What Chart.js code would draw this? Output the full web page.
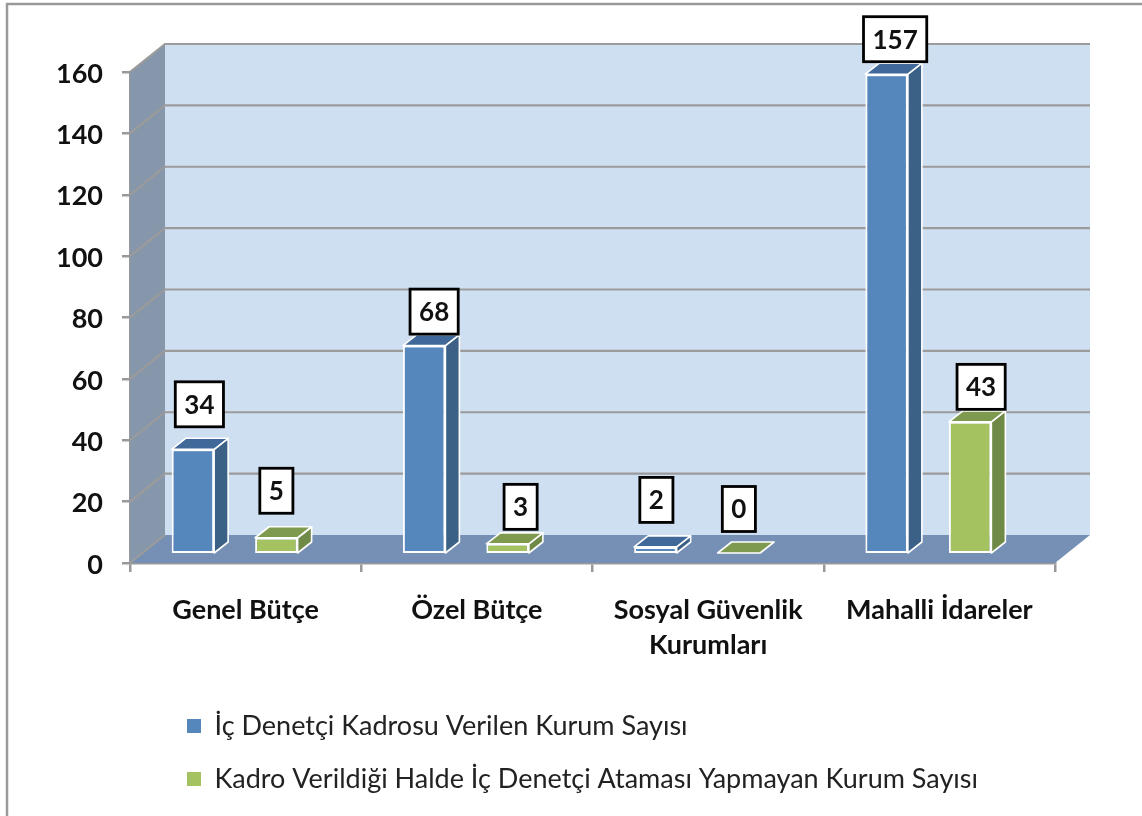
<!DOCTYPE html>
<html>
<head>
<meta charset="utf-8">
<style>html,body{margin:0;padding:0;background:#fff}canvas{display:block}</style>
<script src="https://cdn.jsdelivr.net/npm/chart.js@4"></script>
</head>
<body>
<canvas id="c" width="1142" height="816"></canvas>
<script>
const categories = ['Genel Bütçe', 'Özel Bütçe', ['Sosyal Güvenlik', 'Kurumları'], 'Mahalli İdareler'];
const seriesNames = ['İç Denetçi Kadrosu Verilen Kurum Sayısı', 'Kadro Verildiği Halde İç Denetçi Ataması Yapmayan Kurum Sayısı'];
const seriesA = [34, 68, 2, 157];
const seriesB = [5, 3, 0, 43];

const FONT = 'Lato';
const WALL = {dx: 35, dy: -28};
const BAR_SHIFT = {x: -11, y: -10};
const DEPTH = {dx: 14, dy: -11};
const faces = [
  {front: '#5587bd', side: '#3c6187', top: '#40699a'},
  {front: '#a5c261', side: '#6f8a46', top: '#7e9a4f'}
];
// label box centre relative to the front-top centre of each bar
const labelOffsets = [
  [[6.5, -45], [10, -34], [1, -47], [8.5, -35]],
  [[0, -47], [13, -37], [0, -44], [11, -35]]
];

function poly(ctx, pts, fill, stroke, lw) {
  ctx.beginPath();
  pts.forEach((p, i) => i ? ctx.lineTo(p[0], p[1]) : ctx.moveTo(p[0], p[1]));
  ctx.closePath();
  if (fill) { ctx.fillStyle = fill; ctx.fill(); }
  if (stroke) { ctx.strokeStyle = stroke; ctx.lineWidth = lw; ctx.lineJoin = 'round'; ctx.stroke(); }
}

const scene = {
  id: 'scene',
  afterLayout(chart) {
    const l = chart.legend;
    const w = l.width, h = l.height;
    l.left = 161; l.top = 686.5; l.right = l.left + w; l.bottom = l.top + h;
  },
  beforeDatasetsDraw(chart) {
    const ctx = chart.ctx, a = chart.chartArea, y = chart.scales.y;
    ctx.save();
    // frame
    ctx.strokeStyle = '#9a9a9a'; ctx.lineWidth = 2.5;
    ctx.beginPath(); ctx.moveTo(7, 830); ctx.lineTo(7, 4); ctx.lineTo(1150, 4); ctx.stroke();
    const L = a.left, R = a.right, T = a.top, B = a.bottom, dx = WALL.dx, dy = WALL.dy;
    // back wall
    poly(ctx, [[L + dx, T + dy], [R + dx, T + dy], [R + dx, B + dy], [L + dx, B + dy]], '#cedff1');
    // side wall
    poly(ctx, [[L, T], [L + dx, T + dy], [L + dx, B + dy], [L, B]], '#8797ab');
    // floor
    poly(ctx, [[L, B], [L + dx, B + dy], [R + dx, B + dy], [R, B]], '#7590b4');
    // grid lines
    ctx.strokeStyle = '#9b9b9b'; ctx.lineWidth = 2.2;
    y.ticks.forEach(t => {
      const py = y.getPixelForValue(t.value);
      ctx.beginPath();
      ctx.moveTo(L, py); ctx.lineTo(L + dx, py + dy);
      if (t.value > 0) ctx.lineTo(R + dx, py + dy);
      ctx.stroke();
    });
    ctx.restore();

    // shifted plane for the bars: native fronts are drawn inside it
    ctx.save();
    ctx.translate(BAR_SHIFT.x, BAR_SHIFT.y);
    chart.data.datasets.forEach((ds, di) => {
      chart.getDatasetMeta(di).data.forEach(bar => {
        const x0 = bar.x - bar.width / 2, x1 = bar.x + bar.width / 2, t = bar.y, b = bar.base;
        const ex = DEPTH.dx, ey = DEPTH.dy;
        if (b - t > 0.5) poly(ctx, [[x1, t], [x1 + ex, t + ey], [x1 + ex, b + ey], [x1, b]], faces[di].side, '#ffffff', 1.6);
        poly(ctx, [[x0, t], [x0 + ex, t + ey], [x1 + ex, t + ey], [x1, t]], faces[di].top, '#ffffff', 1.6);
      });
    });
  },
  afterDatasetsDraw(chart) {
    const ctx = chart.ctx;
    ctx.restore();
    ctx.save();
    chart.data.datasets.forEach((ds, di) => {
      chart.getDatasetMeta(di).data.forEach((bar, i) => {
        const off = labelOffsets[di][i];
        const cx = bar.x + BAR_SHIFT.x + off[0], cy = bar.y + BAR_SHIFT.y + off[1];
        const txt = String(ds.data[i]);
        ctx.font = 'bold 26px ' + FONT;
        const w = ctx.measureText(txt).width + 18, h = 45;
        ctx.fillStyle = '#fff'; ctx.strokeStyle = '#000'; ctx.lineWidth = 2.8;
        ctx.fillRect(cx - w / 2, cy - h / 2, w, h);
        ctx.strokeRect(cx - w / 2, cy - h / 2, w, h);
        ctx.fillStyle = '#111'; ctx.textAlign = 'center'; ctx.textBaseline = 'middle';
        ctx.fillText(txt, cx, cy + 1);
      });
    });
    ctx.restore();
  }
};

new Chart(document.getElementById('c'), {
  type: 'bar',
  data: {
    labels: categories,
    datasets: [
      {label: seriesNames[0], data: seriesA, backgroundColor: faces[0].front, borderColor: '#ffffff', borderWidth: 2, borderSkipped: false, yAxisID: 'yBars'},
      {label: seriesNames[1], data: seriesB, backgroundColor: faces[1].front, borderColor: '#ffffff', borderWidth: 2, borderSkipped: false, yAxisID: 'yBars'}
    ]
  },
  options: {
    responsive: false,
    animation: false,
    devicePixelRatio: 1,
    categoryPercentage: 0.722,
    barPercentage: 0.509,
    layout: {padding: {left: 0, top: 72, right: 87, bottom: 0}},
    plugins: {
      tooltip: {enabled: false},
      legend: {
        position: 'chartArea',
        align: 'start',
        labels: {
          boxWidth: 14, boxHeight: 14, padding: 26,
          color: '#222',
          font: {family: FONT, size: 27},
          generateLabels(chart) {
            return chart.data.datasets.map((d, i) => ({
              text: d.label, fillStyle: d.backgroundColor, strokeStyle: d.backgroundColor,
              lineWidth: 0, datasetIndex: i, fontColor: '#222'
            }));
          }
        }
      }
    },
    scales: {
      x: {
        afterFit: s => { s.height = 253; },
        grid: {drawOnChartArea: false, color: '#999', lineWidth: 2.5, tickLength: 9, tickColor: '#999'},
        border: {color: '#999', width: 2.5},
        ticks: {color: '#111', padding: 21, maxRotation: 0, autoSkip: false, font: {family: FONT, size: 27, weight: 'bold', lineHeight: 1.3}}
      },
      y: {
        min: 0, max: 160,
        afterFit: s => { s.width = 130; },
        grid: {drawOnChartArea: false, color: '#999', lineWidth: 2.5, tickLength: 8, tickColor: '#999'},
        border: {color: '#999', width: 2.5},
        ticks: {stepSize: 20, color: '#111', padding: 19, labelOffset: 2, font: {family: FONT, size: 27, weight: 'bold'}}
      },
      yBars: {display: false, min: 0, max: 161}
    }
  },
  plugins: [scene]
});
</script>
</body>
</html>
